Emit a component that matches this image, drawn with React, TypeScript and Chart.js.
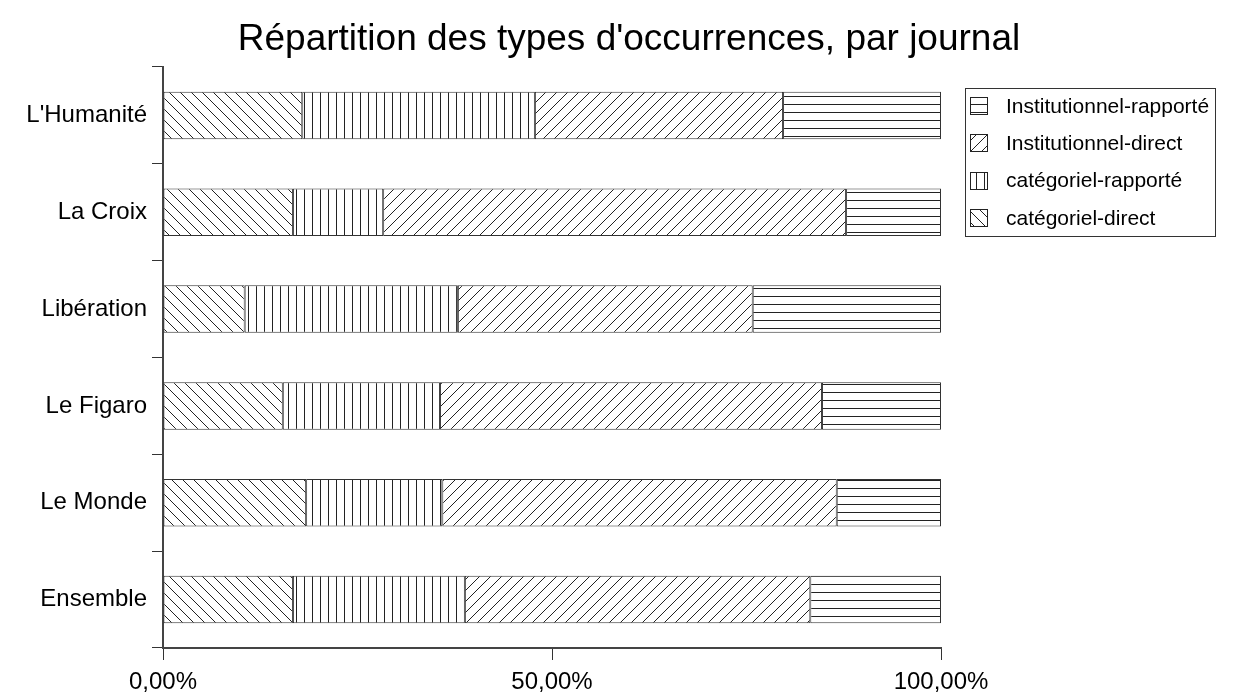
import React, { useEffect, useRef } from "react";
import { Chart, registerables } from "chart.js";

Chart.register(...registerables);

const categories = ["L'Humanité", "La Croix", "Libération", "Le Figaro", "Le Monde", "Ensemble"];
const seriesNames = ["catégoriel-direct", "catégoriel-rapporté", "Institutionnel-direct", "Institutionnel-rapporté"];
const categorielDirect = [17.9, 16.7, 10.5, 15.4, 18.4, 16.7];
const categorielRapporte = [29.9, 11.6, 27.4, 20.2, 17.5, 22.1];
const institutionnelDirect = [31.9, 59.5, 37.9, 49.1, 50.7, 44.4];
const institutionnelRapporte = [20.3, 12.2, 24.2, 15.3, 13.4, 16.8];
const xTickValues = [0, 50, 100];
const titleText = "Répartition des types d'occurrences, par journal";

const FONT = "'Liberation Sans', Arial, sans-serif";
const LINE = "#222";

function makePattern(kind: string): CanvasPattern | string {
  const c = document.createElement("canvas");
  const s = kind === "v" || kind === "h" ? 8 : 11;
  c.width = s;
  c.height = s;
  const g = c.getContext("2d")!;
  g.fillStyle = "#fff";
  g.fillRect(0, 0, s, s);
  g.strokeStyle = LINE;
  g.lineWidth = 1;
  g.beginPath();
  if (kind === "v") {
    g.moveTo(0.5, 0);
    g.lineTo(0.5, s);
  } else if (kind === "h") {
    g.moveTo(0, 0.5);
    g.lineTo(s, 0.5);
  } else if (kind === "b") {
    g.moveTo(-1, -1);
    g.lineTo(s + 1, s + 1);
    g.moveTo(-2, s - 2);
    g.lineTo(2, s + 2);
    g.moveTo(s - 2, -2);
    g.lineTo(s + 2, 2);
  } else {
    g.moveTo(-1, s + 1);
    g.lineTo(s + 1, -1);
    g.moveTo(-2, 2);
    g.lineTo(2, -2);
    g.moveTo(s - 2, s + 2);
    g.lineTo(s + 2, s - 2);
  }
  g.stroke();
  const p = g.createPattern(c, "repeat");
  return p || "#fff";
}

export default function App() {
  const ref = useRef<HTMLCanvasElement | null>(null);

  useEffect(() => {
    if (!ref.current) return;
    const patterns = [makePattern("b"), makePattern("v"), makePattern("f"), makePattern("h")];
    const seriesData = [categorielDirect, categorielRapporte, institutionnelDirect, institutionnelRapporte];

    const decor = {
      id: "decor",
      afterDraw(chart: any) {
        const ctx = chart.ctx as CanvasRenderingContext2D;
        ctx.save();
        // title
        ctx.fillStyle = "#000";
        ctx.font = `37px ${FONT}`;
        ctx.textAlign = "center";
        ctx.textBaseline = "middle";
        ctx.fillText(titleText, 629, 40);
        // legend
        const bx = 965, by = 88, bw = 250, bh = 148;
        ctx.strokeStyle = "#333";
        ctx.lineWidth = 1;
        ctx.strokeRect(bx + 0.5, by + 0.5, bw, bh);
        ctx.font = `21px ${FONT}`;
        ctx.textAlign = "left";
        for (let i = 0; i < 4; i++) {
          const idx = 3 - i;
          const cy = 106 + i * 37.3;
          const top = Math.round(cy - 9);
          ctx.fillStyle = patterns[idx] as any;
          ctx.fillRect(970, top, 18, 18);
          ctx.strokeStyle = "#222";
          ctx.strokeRect(970.5, top + 0.5, 17, 17);
          ctx.fillStyle = "#000";
          ctx.fillText(seriesNames[idx], 1006, cy + 1);
        }
        ctx.restore();
      },
    };

    const chart = new Chart(ref.current, {
      type: "bar",
      data: {
        labels: categories,
        datasets: seriesNames.map((name, i) => ({
          label: name,
          data: seriesData[i],
          backgroundColor: patterns[i] as any,
          borderColor: "#333",
          borderWidth: 1,
          borderSkipped: false,
          barPercentage: 0.49,
          categoryPercentage: 1,
        })),
      },
      options: {
        indexAxis: "y",
        responsive: false,
        animation: false,
        devicePixelRatio: 1,
        layout: { padding: { top: 67, right: 302, left: 0, bottom: 0 } },
        plugins: {
          legend: { display: false },
          title: { display: false },
          tooltip: { enabled: false },
        },
        scales: {
          x: {
            type: "linear",
            stacked: true,
            min: 0,
            max: 100,
            afterFit: (s: any) => { s.height = 47; },
            afterBuildTicks: (s: any) => { s.ticks = xTickValues.map((v) => ({ value: v })); },
            ticks: {
              color: "#000",
              font: { family: FONT, size: 24 },
              padding: 8,
              maxRotation: 0,
              callback: (v: any) => Number(v).toFixed(2).replace(".", ",") + "%",
            },
            grid: { drawOnChartArea: false, drawTicks: true, tickLength: 12, color: "#333", lineWidth: 1 },
            border: { display: true, color: "#444", width: 2 },
          },
          y: {
            stacked: true,
            afterFit: (s: any) => { s.width = 163; },
            ticks: {
              color: "#000",
              font: { family: FONT, size: 24 },
              padding: 5,
            },
            grid: { drawOnChartArea: false, drawTicks: true, tickLength: 11, color: "#333", lineWidth: 1, offset: true },
            border: { display: true, color: "#444", width: 2 },
          },
        },
      },
      plugins: [decor],
    });
    return () => chart.destroy();
  }, []);

  return (
    <div style={{ position: "absolute", left: 0, top: 0, width: 1243, height: 695, background: "#fff" }}>
      <canvas ref={ref} width={1243} height={695} />
    </div>
  );
}
